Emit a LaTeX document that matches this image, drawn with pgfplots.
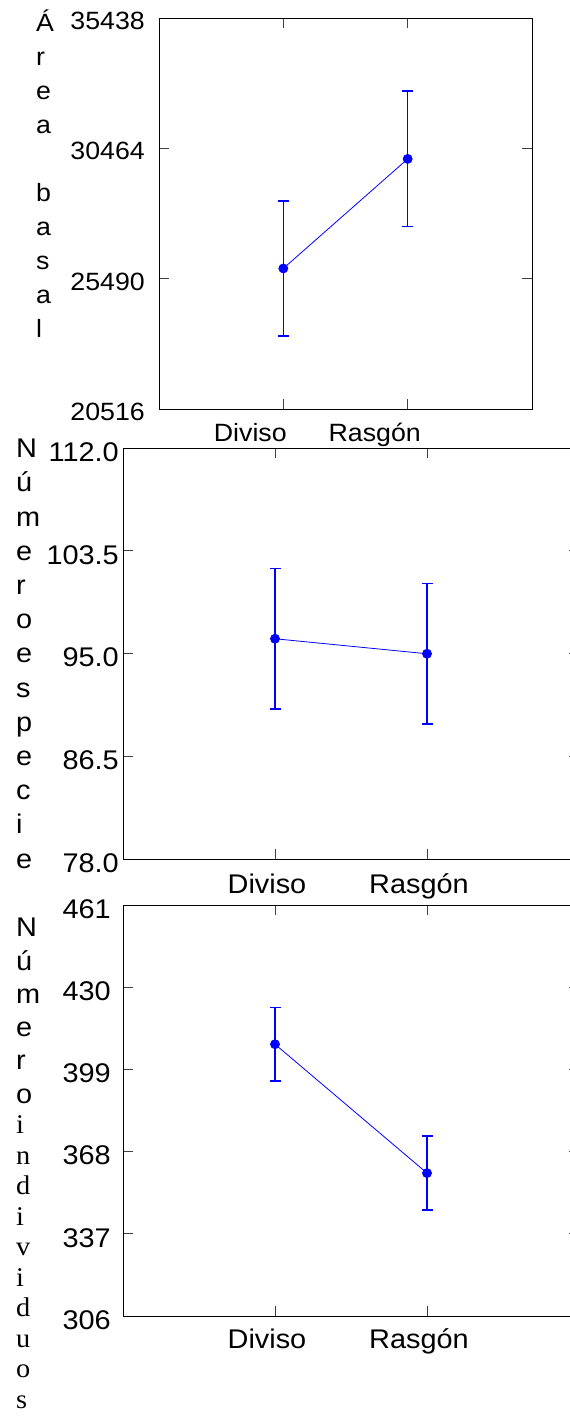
\documentclass[border=0pt]{standalone}
\usepackage{fontspec}
\setmainfont{Liberation Sans}[FakeStretch=1.07]
\newfontfamily\seriffont{Liberation Serif}[FakeStretch=1.05]
\usepackage{pgfplots}
\pgfplotsset{compat=1.18}
\definecolor{pblue}{RGB}{0,0,255}
\newcommand\fA{\fontsize{25}{34}\selectfont}
\newcommand\fB{\fontsize{27}{34.2}\selectfont}
\newcommand\fC{\fontsize{27}{33.3}\selectfont}
\pgfplotsset{
  panel/.style={
    scale only axis,
    xmin=0, xmax=3,
    xtick={1,2}, xticklabels={Diviso,Rasgón},
    scaled y ticks=false,
    tick align=inside,
    major tick length=10pt,
    tick style={black!75, line width=0.8pt},
    axis line style={line width=0.9pt, black},
    yticklabel style={anchor=east, inner sep=0pt},
    xticklabel style={anchor=base, inner sep=0pt},
    ylabel style={rotate=-90, at={(rel axis cs:0,1)}, anchor=north west, inner sep=0pt, align=left},
  },
  dat/.style={color=pblue, line width=0.8pt, mark=*, mark size=4.5pt, mark options={solid, fill=pblue}},
  whisk/.style={color=pblue, line width=#1, mark=-, mark size=5.5pt, mark options={solid, line width=#1}},
}
\begin{document}
\begin{tikzpicture}
\path[use as bounding box] (0,0) rectangle (570pt,-1416pt);
% Panel 1
\begin{axis}[panel, at={(159pt,-18pt)}, anchor=north west, width=373pt, height=391pt,
  ymin=20516, ymax=35438, ytick={20516,25490,30464,35438},
  yticklabels={20516,25490,30464,35438},
  ticklabel style={font=\fA},
  yticklabel style={xshift=-14pt, yshift=-3pt},
  xticklabel style={xshift=-33pt, yshift=-32pt},
  ylabel={Á\\r\\e\\a\\[34pt]b\\a\\s\\a\\l},
  ylabel style={font=\fA, xshift=-123pt, yshift=8pt}]
\addplot[whisk=1.2pt] coordinates {(1,23303) (1,28457)};
\addplot[whisk=1.2pt] coordinates {(2,27471) (2,32649)};
\addplot[dat] coordinates {(1,25880) (2,30060)};
\end{axis}
% Panel 2
\begin{axis}[panel, at={(123pt,-448pt)}, anchor=north west, width=456pt, height=411pt,
  ymin=78, ymax=112, ytick={78,86.5,95,103.5,112},
  yticklabels={78.0,86.5,95.0,103.5,\raisebox{-10pt}{112.0}},
  ticklabel style={font=\fB},
  yticklabel style={xshift=-4pt, yshift=-4pt},
  xticklabel style={xshift=-8pt, yshift=-34pt},
  ylabel={N\\ú\\m\\e\\r\\o\\e\\s\\p\\e\\c\\i\\e},
  ylabel style={font=\fB, xshift=-107pt, yshift=9pt}]
\addplot[whisk=1.6pt] coordinates {(1,90.40) (1,102.04)};
\addplot[whisk=1.6pt] coordinates {(2,89.18) (2,100.78)};
\addplot[dat] coordinates {(1,96.22) (2,94.98)};
\end{axis}
% Panel 3
\begin{axis}[panel, at={(123pt,-905pt)}, anchor=north west, width=456pt, height=411pt,
  ymin=306, ymax=461, ytick={306,337,368,399,430,461},
  yticklabels={306,337,368,399,430,461},
  ticklabel style={font=\fB},
  yticklabel style={xshift=-12pt, yshift=-4pt},
  xticklabel style={xshift=-8pt, yshift=-32pt},
  ylabel={N\\ú\\m\\e\\r\\o\\[-2.8pt]{\seriffont i}\\[-2.8pt]{\seriffont n}\\[-2.8pt]{\seriffont d}\\[-2.8pt]{\seriffont i}\\[-2.8pt]{\seriffont v}\\[-2.8pt]{\seriffont i}\\[-2.8pt]{\seriffont d}\\[-2.8pt]{\seriffont u}\\[-2.8pt]{\seriffont o}\\[-2.8pt]{\seriffont s}},
  ylabel style={font=\fC, xshift=-107pt, yshift=-13pt}]
\addplot[whisk=1.6pt] coordinates {(1,394.6) (1,422.4)};
\addplot[whisk=1.6pt] coordinates {(2,345.9) (2,373.9)};
\addplot[dat] coordinates {(1,408.5) (2,359.9)};
\end{axis}
\end{tikzpicture}
\end{document}
